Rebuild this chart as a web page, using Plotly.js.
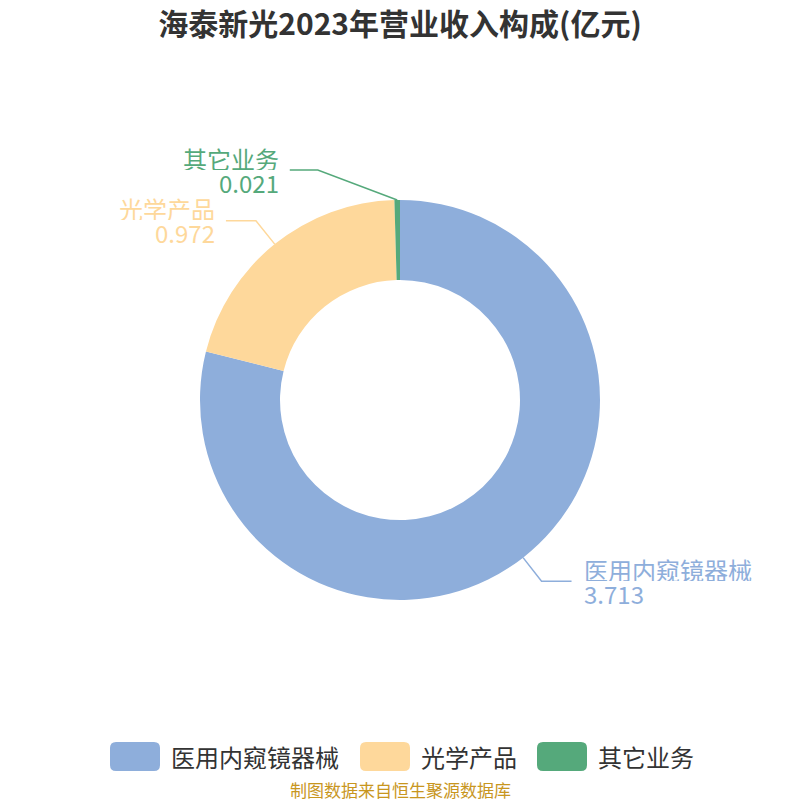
<!DOCTYPE html>
<html><head><meta charset="utf-8">
<script src="https://cdn.plot.ly/plotly-3.0.1.min.js"></script>
<style>body{margin:0;background:#fff}</style></head>
<body><div id="chart" style="width:800px;height:800px"></div>
<script>
const categories = ['医用内窥镜器械', '光学产品', '其它业务'];
const values = [3.713, 0.972, 0.021];
const valueLabels = ['3.713', '0.972', '0.021'];
const colors = ['#8eaedb', '#fed89b', '#55a97b'];
const titleText = '海泰新光2023年营业收入构成(亿元)';
const sourceText = '制图数据来自恒生聚源数据库';

const W = 800, H = 800, CX = 400, CY = 400, R = 200;
const FONT = '"Noto Sans CJK SC", "Noto Sans", sans-serif';
const px = x => x / W, py = y => 1 - y / H;
const total = values.reduce((a, b) => a + b, 0);
const elbowShift = [0, 0, -79]; // label collision-avoidance offsets (layout)

const shapes = [], annotations = [];
let cum = 0;
values.forEach((v, i) => {
  const mid = (cum + v / 2) / total * 2 * Math.PI; cum += v;
  const s = Math.sin(mid), c = Math.cos(mid);
  const right = s >= 0;
  const p0 = [CX + R * s, CY - R * c];
  const p1 = [CX + (R + 30) * s + elbowShift[i], CY - (R + 30) * c];
  const p2 = [p1[0] + (right ? 1 : -1) * (i === 2 ? 28 : 30), p1[1]];
  shapes.push({type: 'path', xref: 'paper', yref: 'paper',
    path: `M${px(p0[0])},${py(p0[1])} L${px(p1[0])},${py(p1[1])} L${px(p2[0])},${py(p2[1])}`,
    line: {color: colors[i], width: 1.5}});
  const tx = p2[0] + (right ? 11 : -10);
  [categories[i], valueLabels[i]].forEach((t, k) => {
    annotations.push({xref: 'paper', yref: 'paper', x: px(tx), y: py(p2[1] + (k === 0 ? -12 : 12)),
      text: t, showarrow: false, xanchor: right ? 'left' : 'right', yanchor: 'middle',
      height: 23, valign: 'middle', borderpad: 0,
      font: {family: FONT, size: 24, color: colors[i]}});
  });
});

// custom legend
const legendBoxX = [110, 360, 537];
const by0 = 742, by1 = 771, rr = 6;
categories.forEach((cat, i) => {
  const x0 = legendBoxX[i], x1 = x0 + 50;
  const P = (x, y) => `${px(x)},${py(y)}`;
  const path = `M${P(x0 + rr, by0)} L${P(x1 - rr, by0)} Q${P(x1, by0)} ${P(x1, by0 + rr)} L${P(x1, by1 - rr)} Q${P(x1, by1)} ${P(x1 - rr, by1)} L${P(x0 + rr, by1)} Q${P(x0, by1)} ${P(x0, by1 - rr)} L${P(x0, by0 + rr)} Q${P(x0, by0)} ${P(x0 + rr, by0)} Z`;
  shapes.push({type: 'path', xref: 'paper', yref: 'paper', path: path,
    fillcolor: colors[i], line: {width: 0}});
  annotations.push({xref: 'paper', yref: 'paper', x: px(x1 + 9), y: py((by0 + by1) / 2),
    text: cat, showarrow: false, xanchor: 'left', yanchor: 'middle',
    font: {family: FONT, size: 24, color: '#333333'}});
});

annotations.push({xref: 'paper', yref: 'paper', x: 0.5, y: py(789), text: sourceText,
  showarrow: false, xanchor: 'center', yanchor: 'middle', height: 20, borderpad: 0,
  font: {family: FONT, size: 17, color: '#c8961e'}});

const data = [{
  type: 'pie', labels: categories, values: values, sort: false,
  direction: 'clockwise', rotation: 0, hole: 0.6,
  marker: {colors: colors, line: {width: 0}},
  textinfo: 'none', hoverinfo: 'label+value',
  domain: {x: [0.25, 0.75], y: [0.25, 0.75]}
}];

const layout = {
  width: W, height: H, margin: {l: 0, r: 0, t: 0, b: 0},
  paper_bgcolor: '#ffffff', showlegend: false,
  title: {text: '<b>' + titleText + '</b>', x: 0.5, xanchor: 'center', y: py(24), yanchor: 'middle',
    font: {family: FONT, size: 30, color: '#333333'}},
  shapes: shapes, annotations: annotations
};
Plotly.newPlot('chart', data, layout, {displayModeBar: false, staticPlot: true});
</script></body></html>
